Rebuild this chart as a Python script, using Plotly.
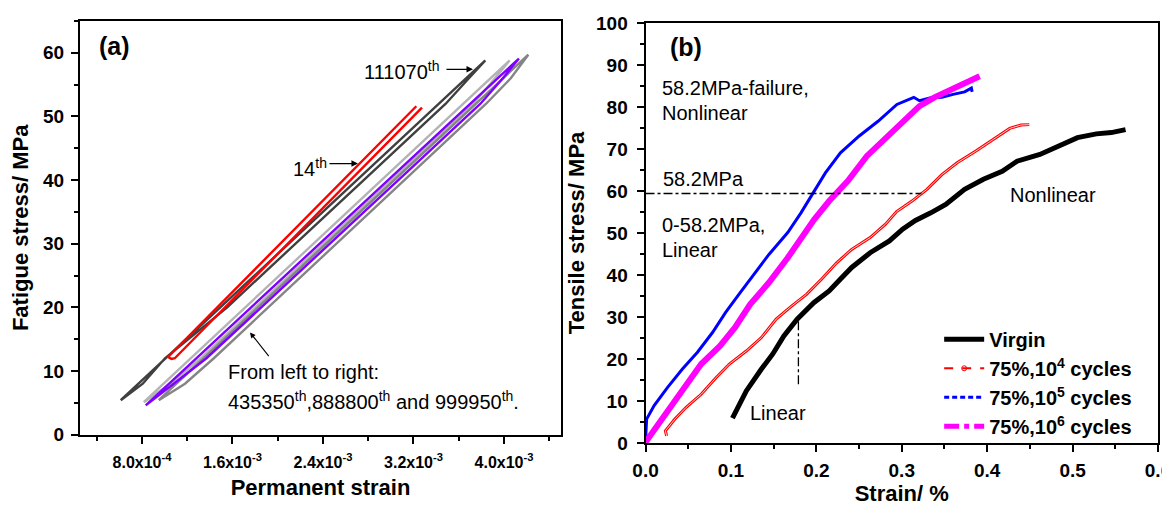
import plotly.graph_objects as go

FONT = "Liberation Sans, Arial, sans-serif"

# ---------------- Panel (a) data: hysteresis loops ----------------
a_xtick_vals = [8e-4, 1.6e-3, 2.4e-3, 3.2e-3, 4.0e-3]
a_xtick_text = ["8.0x10<sup>-4</sup>", "1.6x10<sup>-3</sup>", "2.4x10<sup>-3</sup>",
                "3.2x10<sup>-3</sup>", "4.0x10<sup>-3</sup>"]
a_xminor_vals = [4e-4, 1.2e-3, 2.0e-3, 2.8e-3, 3.6e-3, 4.4e-3]

loop14_strain = [3.225e-3, 1.031e-3, 1.060e-3, 1.090e-3, 3.275e-3]
loop14_stress = [51.6, 12.2, 11.9, 12.0, 51.4]

loop111070_strain = [6.12e-4, 3.835e-3, 3.690e-3, 3.485e-3, 2.881e-3, 2.157e-3,
                     1.553e-3, 1.003e-3, 8.07e-4, 6.12e-4]
loop111070_stress = [5.4, 58.8, 56, 52, 42, 30, 20, 12, 8, 5.4]

loop435350_strain = [8.16e-4, 4.050e-3, 3.920e-3, 3.730e-3, 3.128e-3, 2.405e-3,
                     1.803e-3, 1.321e-3, 1.050e-3, 8.16e-4]
loop435350_stress = [5.1, 58.8, 56, 52, 42, 30, 20, 12, 8, 5.1]

loop888800_strain = [8.33e-4, 4.132e-3, 3.990e-3, 3.792e-3, 3.187e-3, 2.460e-3,
                     1.855e-3, 1.370e-3, 1.080e-3, 8.33e-4]
loop888800_stress = [4.6, 59.1, 56, 52, 42, 30, 20, 12, 8, 4.6]

loop999950_strain = [9.48e-4, 4.215e-3, 4.060e-3, 3.842e-3, 3.240e-3, 2.518e-3,
                     1.916e-3, 1.435e-3, 1.180e-3, 9.48e-4]
loop999950_stress = [5.4, 59.7, 56, 52, 42, 30, 20, 12, 8, 5.4]

# ---------------- Panel (b) data: tensile curves ----------------
virgin_strain = [0.1018, 0.118, 0.1357, 0.149, 0.162, 0.1775, 0.197, 0.215, 0.228, 0.2414,
                 0.263, 0.2855, 0.301, 0.316, 0.334, 0.3515, 0.3736, 0.3956, 0.4176, 0.435,
                 0.4617, 0.4837, 0.5057, 0.5278, 0.5454, 0.562]
virgin_stress = [5.9, 12.4, 17.6, 21.2, 25.5, 29.5, 33.4, 36.2, 39.0, 41.8,
                 45.3, 48.1, 50.9, 53.0, 54.8, 56.8, 60.4, 62.8, 64.7, 67.1,
                 68.7, 70.7, 72.7, 73.6, 73.9, 74.6]

c1e4_strain = [0.0247, 0.0233, 0.0344, 0.0476, 0.0652, 0.0828, 0.0982, 0.118, 0.1357, 0.153,
               0.171, 0.1885, 0.206, 0.2238, 0.2414, 0.263, 0.281, 0.294, 0.312, 0.3295,
               0.347, 0.3648, 0.3868, 0.4044, 0.4264, 0.4396, 0.4493]
c1e4_stress = [1.7, 2.9, 5.7, 8.5, 11.6, 15.6, 18.8, 21.9, 25.1, 29.5,
               32.6, 35.4, 39.0, 42.9, 46.1, 48.9, 52.1, 55.1, 57.6, 60.4,
               63.9, 66.7, 69.5, 71.9, 74.9, 75.7, 75.8]

c1e5_strain = [0.0, 0.0013, 0.0101, 0.0256, 0.0432, 0.0608, 0.0784, 0.0938, 0.1093, 0.1269,
               0.1445, 0.1665, 0.182, 0.1952, 0.2106, 0.2282, 0.2502, 0.2722, 0.2943, 0.3141,
               0.3207, 0.334, 0.347, 0.36, 0.3736, 0.3815, 0.3824]
c1e5_stress = [0.6, 5.7, 8.9, 13.2, 17.6, 21.6, 26.3, 31.1, 35.4, 40.2,
               44.9, 50.1, 54.8, 59.2, 64.3, 69.1, 73.1, 76.6, 80.6, 82.3,
               81.5, 82.2, 82.3, 83.0, 83.6, 84.5, 83.6]

c1e6_strain = [0.0, 0.0123, 0.03, 0.0476, 0.0652, 0.0872, 0.1048, 0.1225, 0.1445, 0.1665,
               0.1797, 0.1974, 0.215, 0.237, 0.259, 0.281, 0.2987, 0.3207, 0.3383, 0.36,
               0.3736, 0.3912]
c1e6_stress = [0.2, 3.7, 8.9, 14.0, 18.8, 23.1, 27.5, 33.0, 38.2, 44.1,
               48.1, 53.2, 57.6, 62.4, 68.3, 72.7, 75.8, 80.2, 82.3, 84.2,
               85.7, 87.3]

limit_line_strain = [0.0, 0.323]
limit_line_stress = [59.4, 59.4]
knee_line_strain = [0.179, 0.179]
knee_line_stress = [29.0, 13.8]

fig = go.Figure()

# panel (a) traces
a_lines = [
    (loop435350_strain, loop435350_stress, "#b4b4b4"),
    (loop999950_strain, loop999950_stress, "#858585"),
    (loop111070_strain, loop111070_stress, "#404040"),
    (loop888800_strain, loop888800_stress, "#7f00ff"),
    (loop14_strain, loop14_stress, "#ff0000"),
]
for xs, ys, col in a_lines:
    fig.add_trace(go.Scatter(x=xs, y=ys, mode="lines", line=dict(color=col, width=2.4),
                             showlegend=False, xaxis="x", yaxis="y", hoverinfo="skip"))

# panel (b) traces (drawn solid, legend given by separate entries)
fig.add_trace(go.Scatter(x=virgin_strain, y=virgin_stress, mode="lines",
                         line=dict(color="black", width=5), showlegend=False,
                         xaxis="x2", yaxis="y2"))
fig.add_trace(go.Scatter(x=c1e4_strain, y=c1e4_stress, mode="lines",
                         line=dict(color="#ff0000", width=3), showlegend=False,
                         xaxis="x2", yaxis="y2"))
fig.add_trace(go.Scatter(x=c1e4_strain, y=c1e4_stress, mode="lines",
                         line=dict(color="white", width=0.8), showlegend=False,
                         xaxis="x2", yaxis="y2", hoverinfo="skip"))
fig.add_trace(go.Scatter(x=c1e5_strain, y=c1e5_stress, mode="lines",
                         line=dict(color="#0000ff", width=3), showlegend=False,
                         xaxis="x2", yaxis="y2"))
fig.add_trace(go.Scatter(x=c1e6_strain, y=c1e6_stress, mode="lines",
                         line=dict(color="#ff00ff", width=6), showlegend=False,
                         xaxis="x2", yaxis="y2"))
fig.add_trace(go.Scatter(x=limit_line_strain, y=limit_line_stress, mode="lines",
                         line=dict(color="black", width=1.3, dash="dashdot"), showlegend=False,
                         xaxis="x2", yaxis="y2", hoverinfo="skip"))
fig.add_trace(go.Scatter(x=knee_line_strain, y=knee_line_stress, mode="lines",
                         line=dict(color="black", width=1.3, dash="dashdot"), showlegend=False,
                         xaxis="x2", yaxis="y2", hoverinfo="skip"))

# legend entries
fig.add_trace(go.Scatter(x=[None], y=[None], mode="lines", name="Virgin",
                         line=dict(color="black", width=5), xaxis="x2", yaxis="y2"))
fig.add_trace(go.Scatter(x=[None], y=[None], mode="lines+markers", name="75%,10<sup>4</sup> cycles",
                         line=dict(color="#ff0000", width=2, dash="dash"),
                         marker=dict(symbol="circle-open", size=5, color="#ff0000"),
                         xaxis="x2", yaxis="y2"))
fig.add_trace(go.Scatter(x=[None], y=[None], mode="lines", name="75%,10<sup>5</sup> cycles",
                         line=dict(color="#0000ff", width=3, dash="5px,3px"), xaxis="x2", yaxis="y2"))
fig.add_trace(go.Scatter(x=[None], y=[None], mode="lines", name="75%,10<sup>6</sup> cycles",
                         line=dict(color="#ff00ff", width=5, dash="dashdot"), xaxis="x2", yaxis="y2"))

axis_common = dict(showline=True, linewidth=2, linecolor="black", mirror=True,
                   ticks="outside", ticklen=7, tickwidth=2, tickcolor="black",
                   showgrid=False, zeroline=False, automargin=False)

tickfont = dict(family=FONT, size=19, color="black", weight="bold")
titlefont = dict(family=FONT, size=22, color="black", weight="bold")
minor_y = dict(dtick=5, tick0=0, ticks="outside", ticklen=4, tickwidth=2, tickcolor="black")

fig.update_layout(
    width=1170, height=505,
    margin=dict(l=72, r=20, t=13, b=70),
    paper_bgcolor="white", plot_bgcolor="white",
    font=dict(family=FONT, color="black"),
    xaxis=dict(domain=[0.0, 0.4462], range=[2.52e-4, 4.504e-3],
               tickmode="array", tickvals=a_xtick_vals, ticktext=a_xtick_text,
               tickfont=dict(family=FONT, size=16, color="black", weight="bold"),
               minor=dict(tickmode="array", tickvals=a_xminor_vals, ticks="outside",
                          ticklen=4, tickwidth=2, tickcolor="black"),
               ticklabelstandoff=5,
               title=dict(text="Permanent strain", font=titlefont, standoff=10),
               anchor="y", **axis_common),
    yaxis=dict(domain=[0.0199, 1.0], range=[0, 65], dtick=10, tick0=0,
               tickfont=tickfont, minor=minor_y, ticklabelstandoff=3,
               title=dict(text="Fatigue stress/ MPa", font=titlefont, standoff=8),
               anchor="x", **axis_common),
    xaxis2=dict(domain=[0.5246, 1.0], range=[0, 0.6], dtick=0.1, tick0=0, tickformat=".1f",
                tickfont=tickfont,
                minor=dict(dtick=0.05, tick0=0, ticks="outside", ticklen=4, tickwidth=2,
                           tickcolor="black"),
                ticklabelstandoff=2,
                title=dict(text="Strain/ %", font=titlefont, standoff=1),
                anchor="y2", **axis_common),
    yaxis2=dict(domain=[0.0, 0.9953], range=[0, 100], dtick=10, tick0=0,
                tickfont=tickfont, minor=minor_y, ticklabelstandoff=5,
                title=dict(text="Tensile stress/ MPa", font=titlefont, standoff=5),
                anchor="x2", **axis_common),
    legend=dict(x=0.797, y=0.292, xref="paper", yref="paper", xanchor="left", yanchor="top",
                bgcolor="rgba(0,0,0,0)", font=dict(family=FONT, size=20, color="black",
                                                  weight="bold"),
                itemwidth=40, tracegroupgap=0),
)

txt = dict(family=FONT, size=20, color="black")
ann = []
# panel (a)
ann.append(dict(x=5.6e-4, y=61.1, xref="x", yref="y", text="<b>(a)</b>", showarrow=False,
                font=dict(family=FONT, size=25, color="black")))
ann.append(dict(x=2.745e-3, y=57.3, xref="x", yref="y", text="111070<sup>th</sup>",
                showarrow=False, xanchor="left", font=txt))
ann.append(dict(x=3.726e-3, y=57.4, ax=3.478e-3, ay=57.4, xref="x", yref="y",
                axref="x", ayref="y", text="", showarrow=True, arrowhead=2, arrowsize=1,
                arrowwidth=1.3, arrowcolor="black"))
ann.append(dict(x=2.117e-3, y=42.0, xref="x", yref="y", text="14<sup>th</sup>",
                showarrow=False, xanchor="left", font=txt))
ann.append(dict(x=2.709e-3, y=42.6, ax=2.444e-3, ay=42.6, xref="x", yref="y",
                axref="x", ayref="y", text="", showarrow=True, arrowhead=2, arrowsize=1,
                arrowwidth=1.3, arrowcolor="black"))
ann.append(dict(x=1.543e-3, y=9.8, xref="x", yref="y", text="From left to right:",
                showarrow=False, xanchor="left", font=txt))
ann.append(dict(x=1.543e-3, y=5.3, xref="x", yref="y",
                text="435350<sup>th</sup>,888800<sup>th</sup> and 999950<sup>th</sup>.",
                showarrow=False, xanchor="left", font=txt))
ann.append(dict(x=1.755e-3, y=16.05, ax=1.931e-3, ay=12.1, xref="x", yref="y",
                axref="x", ayref="y", text="", showarrow=True, arrowhead=2, arrowsize=1,
                arrowwidth=1.1, arrowcolor="black"))
# panel (b)
ann.append(dict(x=0.0476, y=94.2, xref="x2", yref="y2", text="<b>(b)</b>", showarrow=False,
                font=dict(family=FONT, size=25, color="black")))
ann.append(dict(x=0.0167, y=84.5, xref="x2", yref="y2", text="58.2MPa-failure,",
                showarrow=False, xanchor="left", font=txt))
ann.append(dict(x=0.0167, y=78.6, xref="x2", yref="y2", text="Nonlinear",
                showarrow=False, xanchor="left", font=txt))
ann.append(dict(x=0.018, y=62.8, xref="x2", yref="y2", text="58.2MPa",
                showarrow=False, xanchor="left", font=txt))
ann.append(dict(x=0.0167, y=51.9, xref="x2", yref="y2", text="0-58.2MPa,",
                showarrow=False, xanchor="left", font=txt))
ann.append(dict(x=0.0167, y=46.0, xref="x2", yref="y2", text="Linear",
                showarrow=False, xanchor="left", font=txt))
ann.append(dict(x=0.424, y=59.0, xref="x2", yref="y2", text="Nonlinear",
                showarrow=False, xanchor="left", font=txt))
ann.append(dict(x=0.12, y=7.1, xref="x2", yref="y2", text="Linear",
                showarrow=False, xanchor="left", font=txt))
fig.update_layout(annotations=ann)

fig.write_html("out.html")
